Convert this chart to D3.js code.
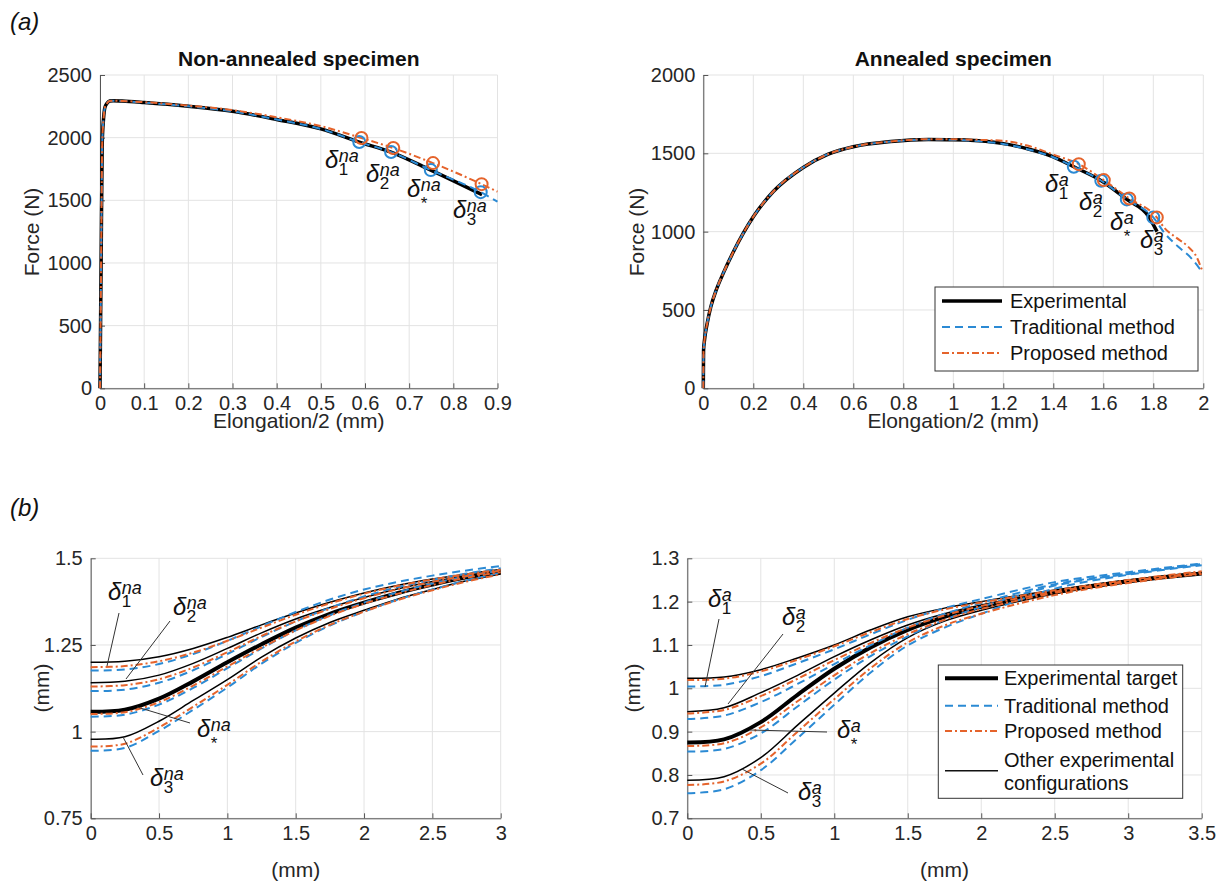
<!DOCTYPE html>
<html><head><meta charset="utf-8">
<script src="https://cdn.jsdelivr.net/npm/d3@7"></script>
<style>
body{margin:0;background:#fff}
svg{display:block}
text{font-family:"Liberation Sans",Arial,sans-serif}
</style>
</head><body>
<svg id="c" width="1225" height="890"></svg>
<script>
// ---------- (a) Non-annealed specimen: Force (N) vs Elongation/2 (mm) ----------
const naXTicks = [0,0.1,0.2,0.3,0.4,0.5,0.6,0.7,0.8,0.9];
const naYTicks = [0,500,1000,1500,2000,2500];
const naExpX  = [0,0.0025,0.005,0.008,0.011,0.016,0.022,0.03,0.05,0.1,0.2,0.3,0.4,0.5,0.587,0.659,0.749,0.865];
const naExp   = [0,1000,1950,2150,2240,2275,2292,2295,2292,2280,2250,2210,2145,2070,1965,1885,1741,1545];
const naTradX = [0,0.0025,0.005,0.008,0.011,0.016,0.022,0.03,0.05,0.1,0.2,0.3,0.4,0.5,0.587,0.659,0.749,0.862,0.9];
const naTrad  = [0,1000,1950,2150,2240,2275,2292,2295,2292,2280,2250,2210,2145,2070,1965,1885,1741,1565,1489];
const naPropX = [0,0.0025,0.005,0.008,0.011,0.016,0.022,0.03,0.05,0.1,0.2,0.3,0.4,0.5,0.592,0.664,0.754,0.864,0.9];
const naProp  = [0,1000,1950,2150,2240,2275,2292,2295,2293,2283,2256,2220,2163,2092,1997,1917,1797,1629,1569];
const naMarkTradX = [0.587,0.659,0.749,0.862];
const naMarkTrad  = [1965,1885,1741,1565];
const naMarkPropX = [0.592,0.664,0.754,0.864];
const naMarkProp  = [1997,1917,1797,1629];

// ---------- (a) Annealed specimen ----------
const aXTicks = [0,0.2,0.4,0.6,0.8,1,1.2,1.4,1.6,1.8,2];
const aYTicks = [0,500,1000,1500,2000];
const aExpX  = [0,0.001,0.005,0.015,0.03,0.05,0.08,0.12,0.16,0.2,0.28,0.4,0.5,0.6,0.75,0.9,1.0,1.1,1.2,1.3,1.4,1.482,1.592,1.694,1.78,1.815];
const aExp   = [0,240,310,410,520,620,735,870,990,1095,1256,1410,1495,1542,1575,1588,1587,1580,1562,1528,1478,1414,1325,1206,1100,1000];
const aTradX = [0,0.001,0.005,0.015,0.03,0.05,0.08,0.12,0.16,0.2,0.28,0.4,0.5,0.6,0.75,0.9,1.0,1.1,1.2,1.3,1.4,1.482,1.592,1.694,1.80,1.846,1.90,1.947,1.995];
const aTrad  = [0,240,310,410,520,620,735,870,990,1095,1256,1410,1495,1542,1575,1588,1587,1578,1560,1525,1475,1414,1325,1206,1091,989,903,839,743];
const aPropX = [0,0.001,0.005,0.015,0.03,0.05,0.08,0.12,0.16,0.2,0.28,0.4,0.5,0.6,0.75,0.9,1.0,1.1,1.2,1.3,1.4,1.502,1.602,1.704,1.814,1.846,1.887,1.94,1.973,1.995];
const aProp  = [0,240,310,410,520,620,735,870,990,1095,1256,1410,1495,1542,1576,1590,1590,1586,1580,1548,1492,1431,1329,1212,1091,1021,967,903,839,754];
const aMarkTradX = [1.482,1.592,1.694,1.80];
const aMarkTrad  = [1414,1325,1206,1091];
const aMarkPropX = [1.502,1.602,1.704,1.814];
const aMarkProp  = [1431,1329,1212,1091];

// ---------- (b) Non-annealed: profiles (mm) ----------
const blXTicks = [0,0.5,1,1.5,2,2.5,3];
const blYTicks = [0.75,1,1.25,1.5];
const blX = [0,0.25,0.5,0.75,1,1.25,1.5,1.75,2,2.25,2.5,2.75,3];
const blExp1  = [1.200,1.203,1.216,1.240,1.272,1.308,1.342,1.373,1.400,1.422,1.440,1.455,1.468];
const blProp1 = [1.186,1.189,1.203,1.228,1.262,1.300,1.337,1.370,1.398,1.421,1.439,1.454,1.467];
const blTrad1 = [1.176,1.179,1.195,1.224,1.262,1.304,1.345,1.381,1.410,1.432,1.450,1.465,1.478];
const blExp2  = [1.141,1.145,1.163,1.197,1.240,1.285,1.325,1.358,1.387,1.412,1.433,1.450,1.464];
const blProp2 = [1.130,1.134,1.151,1.185,1.229,1.276,1.318,1.354,1.385,1.411,1.432,1.449,1.464];
const blTrad2 = [1.117,1.121,1.141,1.177,1.224,1.273,1.318,1.357,1.390,1.417,1.438,1.456,1.471];
const blExpS  = [1.057,1.063,1.095,1.145,1.200,1.252,1.300,1.340,1.372,1.400,1.424,1.445,1.460];
const blPropS = [1.051,1.056,1.085,1.133,1.188,1.242,1.292,1.334,1.369,1.398,1.423,1.444,1.460];
const blTradS = [1.043,1.049,1.078,1.126,1.183,1.240,1.292,1.336,1.372,1.402,1.427,1.448,1.465];
const blExp3  = [0.978,0.985,1.030,1.090,1.150,1.215,1.270,1.315,1.350,1.383,1.410,1.435,1.455];
const blProp3 = [0.957,0.965,1.012,1.072,1.135,1.202,1.260,1.308,1.346,1.380,1.408,1.433,1.454];
const blTrad3 = [0.945,0.953,1.002,1.063,1.127,1.196,1.256,1.306,1.346,1.381,1.410,1.436,1.458];

// ---------- (b) Annealed: profiles (mm) ----------
const brXTicks = [0,0.5,1,1.5,2,2.5,3,3.5];
const brYTicks = [0.7,0.8,0.9,1,1.1,1.2,1.3];
const brX = [0,0.25,0.5,0.75,1,1.25,1.5,1.75,2,2.5,3,3.5];
const brExp1  = [1.023,1.026,1.043,1.070,1.100,1.135,1.165,1.185,1.200,1.227,1.250,1.268];
const brProp1 = [1.019,1.022,1.039,1.066,1.097,1.130,1.160,1.182,1.198,1.226,1.250,1.270];
const brTrad1 = [1.004,1.008,1.028,1.058,1.090,1.125,1.158,1.185,1.206,1.245,1.268,1.288];
const brExp2  = [0.946,0.955,0.990,1.030,1.073,1.112,1.146,1.172,1.192,1.224,1.248,1.266];
const brProp2 = [0.942,0.950,0.982,1.022,1.065,1.105,1.140,1.168,1.190,1.223,1.248,1.267];
const brTrad2 = [0.929,0.937,0.968,1.010,1.056,1.100,1.140,1.172,1.197,1.240,1.265,1.287];
const brExpS  = [0.875,0.882,0.922,0.985,1.045,1.095,1.135,1.165,1.188,1.222,1.247,1.265];
const brPropS = [0.867,0.873,0.910,0.970,1.030,1.082,1.125,1.158,1.183,1.220,1.246,1.265];
const brTradS = [0.854,0.860,0.896,0.958,1.020,1.075,1.120,1.158,1.188,1.237,1.264,1.286];
const brExp3  = [0.788,0.796,0.840,0.915,0.989,1.060,1.117,1.155,1.180,1.218,1.245,1.264];
const brProp3 = [0.777,0.785,0.826,0.900,0.975,1.047,1.106,1.145,1.172,1.215,1.243,1.264];
const brTrad3 = [0.758,0.767,0.811,0.885,0.962,1.037,1.099,1.140,1.172,1.230,1.262,1.284];

const legendTop = ["Experimental","Traditional method","Proposed method"];
const legendBottom = ["Experimental target","Traditional method","Proposed method","Other experimental","configurations"];

// ---------- styles ----------
const BLUE = "#2b8ad4", ORANGE = "#e5632b", BLACK = "#000";
const DASH_T = "8,5", DASH_P = "7,3,2,3";
const svg = d3.select("#c");
const SERIF = "'Liberation Serif','DejaVu Serif',serif";

function makePanel(c){
  const x = d3.scaleLinear().domain(c.xd).range([c.l,c.r]);
  const y = d3.scaleLinear().domain(c.yd).range([c.b,c.t]);
  const g = svg.append("g");
  g.selectAll(null).data(c.xt).join("line")
    .attr("x1",d=>x(d)).attr("x2",d=>x(d)).attr("y1",c.t).attr("y2",c.b)
    .attr("stroke","#e3e3e3").attr("stroke-width",1);
  g.selectAll(null).data(c.yt).join("line")
    .attr("y1",d=>y(d)).attr("y2",d=>y(d)).attr("x1",c.l).attr("x2",c.r)
    .attr("stroke","#e3e3e3").attr("stroke-width",1);
  const ax = g.append("g").attr("transform",`translate(0,${c.b})`)
    .call(d3.axisBottom(x).tickValues(c.xt).tickFormat(d=>String(d)).tickSizeInner(-5).tickSizeOuter(0).tickPadding(8));
  const ay = g.append("g").attr("transform",`translate(${c.l},0)`)
    .call(d3.axisLeft(y).tickValues(c.yt).tickFormat(d=>String(d)).tickSizeInner(-5).tickSizeOuter(0).tickPadding(8));
  [ax,ay].forEach(a=>{
    a.select(".domain").attr("stroke","#555").attr("stroke-width",1);
    a.selectAll(".tick line").attr("stroke","#555");
    a.selectAll(".tick text").attr("fill","#262626").attr("font-size",20).attr("font-family","'Liberation Sans',Arial,sans-serif");
  });
  return {x,y,g};
}

function drawLine(p, xs, ys, color, width, dash, smooth){
  const data = xs.map((v,i)=>[v,ys[i]]);
  p.g.append("path").datum(data)
    .attr("fill","none").attr("stroke",color).attr("stroke-width",width)
    .attr("stroke-dasharray",dash||null).attr("stroke-linejoin","round")
    .attr("d",d3.line().x(d=>p.x(d[0])).y(d=>p.y(d[1]))
      .curve(smooth ? d3.curveCatmullRom.alpha(0.5) : d3.curveMonotoneX));
}
function drawMarks(p, xs, ys, color){
  p.g.selectAll(null).data(xs.map((v,i)=>[v,ys[i]])).join("circle")
    .attr("cx",d=>p.x(d[0])).attr("cy",d=>p.y(d[1])).attr("r",6)
    .attr("fill","none").attr("stroke",color).attr("stroke-width",2);
}
function deltaLabel(x, y, sub, sup){
  const t = svg.append("text").attr("x",x).attr("y",y).attr("font-family",SERIF)
    .attr("font-style","italic").attr("font-size",24).attr("fill","#111").text("δ");
  const w = t.node().getComputedTextLength();
  const star = sub==="*";
  svg.append("text").attr("x",x+w+0.5).attr("y",y+(star?12:7)).attr("font-family",SERIF)
    .attr("font-size",17).attr("fill","#111").text(sub);
  svg.append("text").attr("x",x+w+0.5).attr("y",y-6).attr("font-family",SERIF)
    .attr("font-style","italic").attr("font-size",18).attr("fill","#111").text(sup);
}
function leader(x1,y1,x2,y2){
  svg.append("line").attr("x1",x1).attr("y1",y1).attr("x2",x2).attr("y2",y2)
    .attr("stroke","#333").attr("stroke-width",1);
}
function text(x,y,s,opt){
  const t = svg.append("text").attr("x",x).attr("y",y).text(s)
    .attr("font-size",opt.size||20).attr("fill",opt.fill||"#262626")
    .attr("text-anchor",opt.anchor||"middle");
  if(opt.bold) t.attr("font-weight","bold");
  if(opt.rot) t.attr("transform",`rotate(-90,${x},${y})`);
  if(opt.font) t.attr("font-family",opt.font);
  if(opt.italic) t.attr("font-style","italic");
  return t;
}

// ---------- Panel 1 ----------
const p1 = makePanel({xd:[0,0.9],yd:[0,2500],l:100,r:497.5,t:75,b:388.3,xt:naXTicks,yt:naYTicks});
drawLine(p1, naExpX, naExp, BLACK, 3.5);
drawLine(p1, naTradX, naTrad, BLUE, 2, DASH_T);
drawLine(p1, naPropX, naProp, ORANGE, 2, DASH_P);
drawMarks(p1, naMarkTradX, naMarkTrad, BLUE);
drawMarks(p1, naMarkPropX, naMarkProp, ORANGE);

// ---------- Panel 2 ----------
const p2 = makePanel({xd:[0,2],yd:[0,2000],l:703.3,r:1203.3,t:75,b:388.3,xt:aXTicks,yt:aYTicks});
drawLine(p2, aExpX, aExp, BLACK, 3.5);
drawLine(p2, aTradX, aTrad, BLUE, 2, DASH_T);
drawLine(p2, aPropX, aProp, ORANGE, 2, DASH_P);
drawMarks(p2, aMarkTradX, aMarkTrad, BLUE);
drawMarks(p2, aMarkPropX, aMarkProp, ORANGE);

// ---------- Panel 3 ----------
const p3 = makePanel({xd:[0,3],yd:[0.75,1.5],l:90.7,r:500.7,t:558.3,b:818.3,xt:blXTicks,yt:blYTicks});
[[blExp1,1.5],[blExp2,1.5],[blExpS,4],[blExp3,1.5]].forEach(([s,w])=>drawLine(p3, blX, s, BLACK, w, null, true));
[blTrad1,blTrad2,blTradS,blTrad3].forEach(s=>drawLine(p3, blX, s, BLUE, 2, DASH_T, true));
[blProp1,blProp2,blPropS,blProp3].forEach(s=>drawLine(p3, blX, s, ORANGE, 2, DASH_P, true));

// ---------- Panel 4 ----------
const p4 = makePanel({xd:[0,3.5],yd:[0.7,1.3],l:687.3,r:1201.7,t:558.3,b:818.3,xt:brXTicks,yt:brYTicks});
[[brExp1,1.5],[brExp2,1.5],[brExpS,4],[brExp3,1.5]].forEach(([s,w])=>drawLine(p4, brX, s, BLACK, w, null, true));
[brTrad1,brTrad2,brTradS,brTrad3].forEach(s=>drawLine(p4, brX, s, BLUE, 2, DASH_T, true));
[brProp1,brProp2,brPropS,brProp3].forEach(s=>drawLine(p4, brX, s, ORANGE, 2, DASH_P, true));

// ---------- Titles & labels ----------
text(298.75,66,"Non-annealed specimen",{bold:true,size:21,fill:"#111"});
text(953.3,66,"Annealed specimen",{bold:true,size:21,fill:"#111"});
text(298.75,428,"Elongation/2 (mm)",{size:21});
text(953.3,428,"Elongation/2 (mm)",{size:21});
text(39,232,"Force (N)",{rot:true,size:21});
text(644,232,"Force (N)",{rot:true,size:21});
text(295.7,877,"(mm)",{size:21});
text(944.5,877,"(mm)",{size:21});
text(49,688,"(mm)",{rot:true,size:21});
text(640,688,"(mm)",{rot:true,size:21});
text(10,30,"(a)",{anchor:"start",font:SERIF,italic:true,size:24,fill:"#111"});
text(10,516,"(b)",{anchor:"start",font:SERIF,italic:true,size:24,fill:"#111"});

// ---------- Delta labels ----------
deltaLabel(325,168,"1","na");
deltaLabel(366,182,"2","na");
deltaLabel(407,197,"*","na");
deltaLabel(453,218,"3","na");
deltaLabel(1045,192,"1","a");
deltaLabel(1079,210,"2","a");
deltaLabel(1110,230,"*","a");
deltaLabel(1140,248,"3","a");

leader(119,613,107,666); deltaLabel(108,600,"1","na");
leader(170,621,126,679); deltaLabel(173,615,"2","na");
leader(190,723,137,707); deltaLabel(197,737,"*","na");
leader(143,775,123,737); deltaLabel(150,786,"3","na");

leader(719,619,705,687); deltaLabel(708,607,"1","a");
leader(783,634,728,704); deltaLabel(782,625,"2","a");
leader(827,732,750,730); deltaLabel(837,738,"*","a");
leader(788,793,742,769); deltaLabel(798,800,"3","a");

// ---------- Legends ----------
function legend(x,y,w,h,items){
  svg.append("rect").attr("x",x).attr("y",y).attr("width",w).attr("height",h)
    .attr("fill","#fff").attr("stroke","#333").attr("stroke-width",1);
  items.forEach(it=>{
    if(it.color) svg.append("line").attr("x1",x+7).attr("x2",x+67).attr("y1",it.y).attr("y2",it.y)
      .attr("stroke",it.color).attr("stroke-width",it.w).attr("stroke-dasharray",it.dash||null);
    text(x+75,it.ty,it.label,{anchor:"start",size:20,fill:"#111"});
  });
}
legend(935,287,263,84,[
  {label:legendTop[0],y:301,ty:308,color:BLACK,w:3.5},
  {label:legendTop[1],y:327,ty:334,color:BLUE,w:2,dash:DASH_T},
  {label:legendTop[2],y:353,ty:360,color:ORANGE,w:2,dash:DASH_P}
]);
svg.append("rect").attr("x",938.3).attr("y",665).attr("width",244.4).attr("height",133.3)
  .attr("fill","#fff").attr("stroke","#333").attr("stroke-width",1);
[[678.3,BLACK,4,null],[705.7,BLUE,2,DASH_T],[731,ORANGE,2,DASH_P],[770.7,"#111",1.5,null]].forEach(([yy,c,w,d])=>{
  svg.append("line").attr("x1",945).attr("x2",998).attr("y1",yy).attr("y2",yy)
    .attr("stroke",c).attr("stroke-width",w).attr("stroke-dasharray",d);
});
[[685.3,0],[712.7,1],[738,2],[767,3],[790,4]].forEach(([yy,i])=>text(1004,yy,legendBottom[i],{anchor:"start",size:20,fill:"#111"}));
</script>
</body></html>
